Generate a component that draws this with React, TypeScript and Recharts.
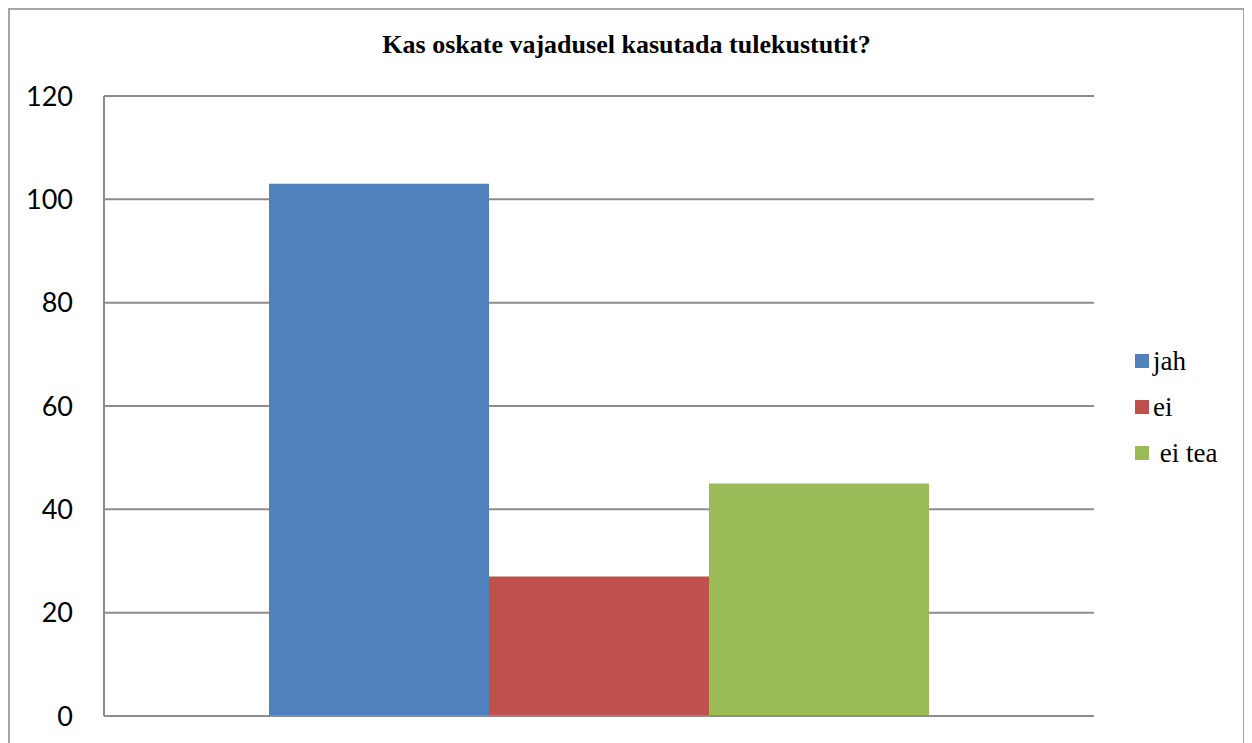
import React from 'react';
import { BarChart, Bar, XAxis, YAxis, CartesianGrid } from 'recharts';

const categories = ['Kas oskate vajadusel kasutada tulekustutit?'];
const seriesNames = ['jah', 'ei', ' ei tea'];
const jahValues = [103];
const eiValues = [27];
const eiTeaValues = [45];
const yTicks = [0, 20, 40, 60, 80, 100, 120];
const colors = ['#4f81bd', '#c0504d', '#9bbb59'];

const data = categories.map((c, i) => ({
  name: c,
  jah: jahValues[i],
  ei: eiValues[i],
  eitea: eiTeaValues[i],
}));
const keys = ['jah', 'ei', 'eitea'];

export default function App() {
  return (
    <div
      style={{
        position: 'relative',
        width: 1237,
        height: 760,
        border: '2px solid #a6a6a6',
        boxSizing: 'border-box',
        background: '#fff',
      }}
    >
      <div
        style={{
          position: 'absolute',
          left: 0,
          right: 0,
          top: 20,
          textAlign: 'center',
          fontFamily: '"Liberation Serif", "Times New Roman", serif',
          fontWeight: 'bold',
          fontSize: 26,
          lineHeight: '30px',
          color: '#000',
        }}
      >
        {categories[0]}
      </div>
      <BarChart
        width={1233}
        height={756}
        data={data}
        margin={{ top: 86, right: 149, bottom: 50, left: 0 }}
        barCategoryGap={165}
        barGap={0}
      >
        <CartesianGrid vertical={false} stroke="#8c8c8c" strokeWidth={2} />
        <XAxis dataKey="name" hide />
        <YAxis
          domain={[0, 120]}
          ticks={yTicks}
          width={94}
          tickLine={false}
          tickSize={0}
          tickMargin={31}
          axisLine={{ stroke: '#8c8c8c', strokeWidth: 2 }}
          tick={{ fill: '#000', fontSize: 27, fontFamily: 'Lato, "Liberation Sans", sans-serif' }}
          interval={0}
        />
        {keys.map((k, i) => (
          <Bar key={k} dataKey={k} fill={colors[i]} isAnimationActive={false} />
        ))}
      </BarChart>
      <svg style={{ position: 'absolute', left: 0, top: 0, pointerEvents: 'none' }} width={1233} height={756}>
        <line x1={94} x2={1084} y1={706} y2={706} stroke="#8c8c8c" strokeWidth={2} />
      </svg>
      <div
        style={{
          position: 'absolute',
          left: 1125,
          top: 328,
          fontFamily: '"Liberation Serif", "Times New Roman", serif',
          fontSize: 27,
          color: '#000',
        }}
      >
        {seriesNames.map((n, i) => (
          <div key={n} style={{ display: 'flex', alignItems: 'center', height: 46 }}>
            <span style={{ display: 'inline-block', width: 14, height: 14, background: colors[i], marginRight: 4 }} />
            <span style={{ whiteSpace: 'pre', lineHeight: '30px' }}>{n}</span>
          </div>
        ))}
      </div>
    </div>
  );
}
